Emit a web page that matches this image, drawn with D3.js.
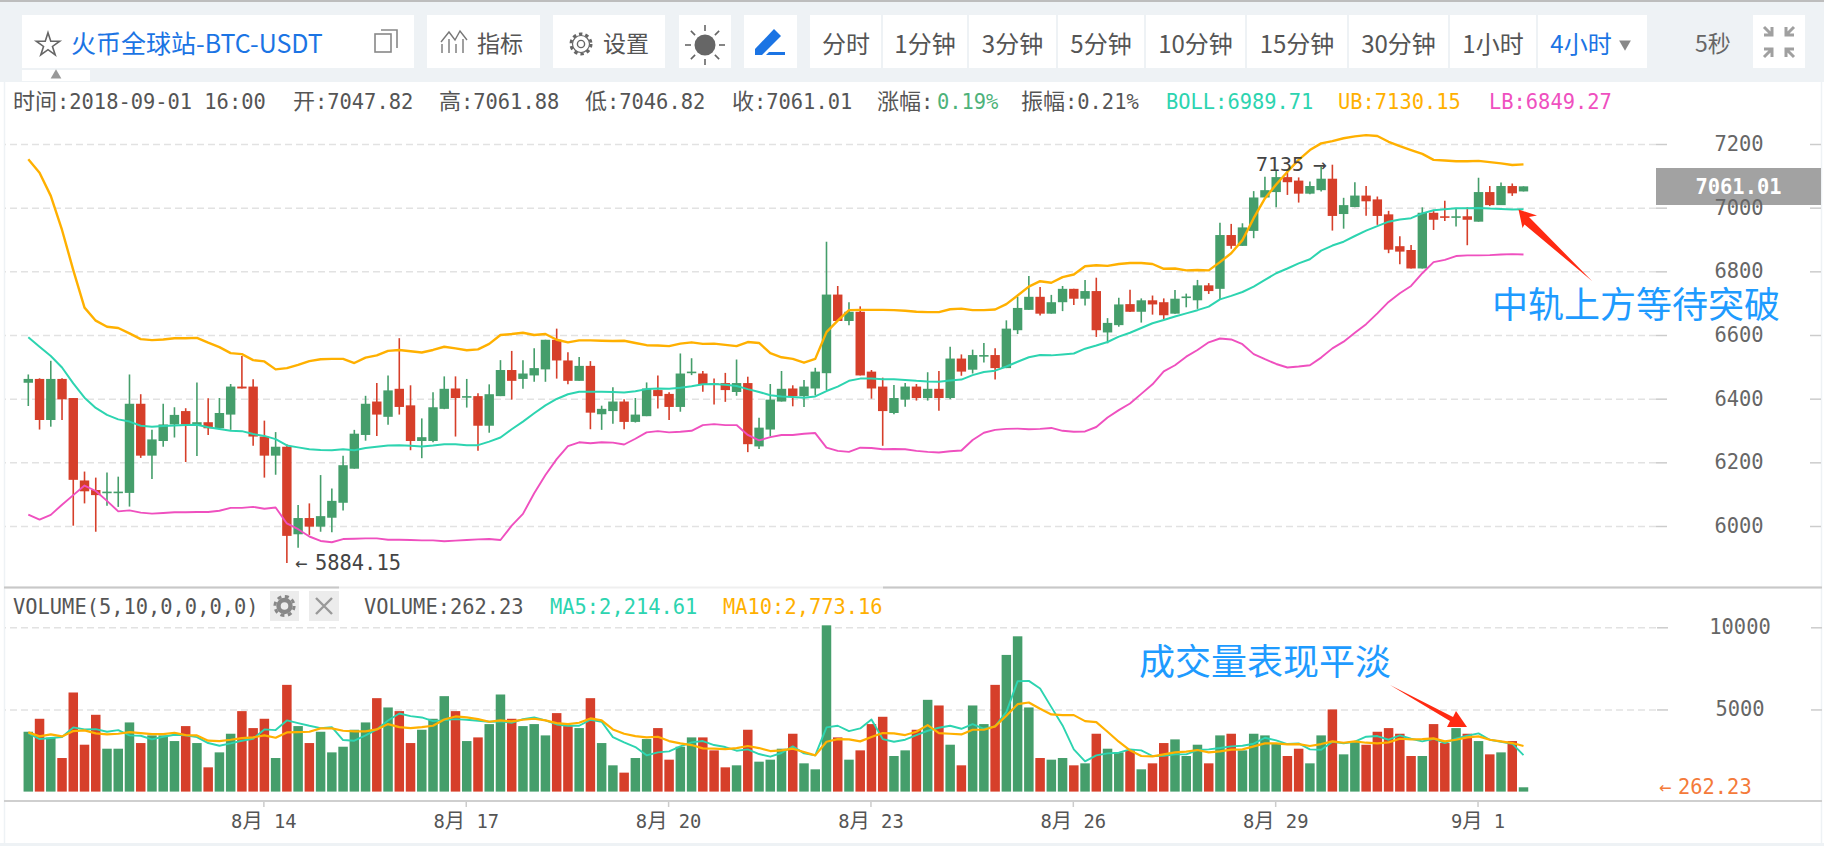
<!DOCTYPE html>
<html><head><meta charset="utf-8">
<script src="https://cdn.jsdelivr.net/npm/d3@7"></script>
<style>html,body{margin:0;padding:0;background:#fff}svg{display:block}</style>
</head><body><svg id="c" width="1824" height="846"></svg>
<script>
const opens=[6450,6462,6333,6462,6402,6143,6113,6104,6104,6104,6384,6221,6267,6319,6361,6317,6326,6307,6350,6438,6438,6281,6221,6249,5974,6025,5998,6026,6073,6180,6286,6391,6343,6431,6379,6267,6267,6368,6432,6403,6408,6315,6408,6490,6462,6473,6492,6585,6520,6456,6503,6351,6361,6391,6327,6345,6427,6415,6374,6480,6479,6448,6449,6421,6449,6250,6303,6391,6432,6408,6432,6480,6727,6644,6673,6485,6438,6355,6397,6438,6402,6431,6402,6526,6491,6532,6537,6496,6615,6679,6720,6667,6703,6745,6714,6738,6608,6631,6697,6673,6709,6703,6667,6717,6709,6756,6745,6914,6880,6927,7032,7049,7096,7085,7044,7055,7091,6980,7002,7038,7026,6979,6879,6867,6809,6984,6973,6969,6973,6956,7049,7008,7068,7051];
const highs=[6476,6464,6519,6464,6402,6171,6152,6168,6155,6476,6414,6302,6384,6373,6370,6451,6401,6402,6446,6534,6461,6331,6295,6257,6066,6071,6160,6118,6221,6302,6409,6449,6473,6590,6442,6338,6420,6470,6470,6462,6417,6445,6521,6550,6521,6558,6585,6620,6546,6531,6518,6378,6436,6398,6402,6451,6473,6420,6542,6527,6487,6463,6481,6523,6469,6340,6446,6487,6442,6459,6497,6893,6754,6703,6690,6490,6466,6443,6449,6446,6483,6487,6563,6539,6554,6575,6558,6646,6720,6785,6751,6726,6754,6745,6773,6780,6653,6717,6742,6715,6724,6715,6741,6730,6773,6763,6953,6949,6951,7052,7097,7118,7116,7095,7082,7128,7135,7031,7080,7068,7035,6990,6910,6883,7001,6993,7022,6998,7001,7094,7068,7079,7076,7067];
const lows=[6377,6303,6312,6333,6001,6071,5982,6064,6060,6061,6214,6148,6249,6278,6201,6220,6286,6304,6302,6432,6252,6152,6161,5884,5932,5972,5982,5980,6049,6180,6268,6283,6318,6350,6238,6213,6263,6367,6281,6372,6236,6293,6408,6397,6431,6453,6453,6463,6445,6456,6304,6302,6321,6304,6325,6345,6369,6333,6359,6474,6422,6382,6390,6409,6232,6242,6281,6391,6376,6374,6410,6427,6644,6631,6473,6400,6252,6351,6375,6394,6394,6362,6398,6472,6479,6514,6460,6496,6603,6679,6661,6667,6675,6694,6693,6594,6574,6626,6672,6639,6664,6649,6667,6687,6682,6729,6712,6871,6880,6904,7032,7001,7040,7016,7042,7051,6928,6934,7001,6975,6946,6857,6822,6809,6809,6930,6958,6941,6882,6956,7005,7008,7037,7051];
const closes=[6462,6333,6462,6398,6145,6109,6097,6108,6108,6384,6221,6272,6319,6349,6319,6326,6307,6355,6438,6432,6281,6221,6249,5969,6025,5998,6031,6079,6191,6290,6384,6350,6426,6374,6267,6279,6373,6431,6402,6408,6315,6414,6490,6456,6479,6496,6585,6520,6456,6503,6356,6368,6391,6327,6350,6432,6408,6374,6479,6485,6444,6445,6427,6449,6257,6309,6397,6431,6408,6438,6485,6727,6644,6673,6473,6432,6361,6402,6438,6402,6431,6402,6526,6485,6537,6537,6496,6620,6685,6720,6667,6703,6745,6714,6738,6615,6638,6696,6673,6709,6696,6662,6714,6721,6756,6738,6914,6880,6938,7032,7055,7096,7080,7044,7068,7091,6974,7008,7038,7020,6974,6868,6862,6809,6984,6962,6969,6973,6962,7049,7008,7068,7045,7067];
const bollUpper=[7152,7110,7037,6930,6804,6686,6645,6626,6622,6605,6587,6584,6586,6590,6590,6591,6576,6562,6543,6540,6521,6517,6492,6496,6506,6518,6524,6525,6525,6512,6529,6536,6550,6553,6549,6545,6553,6563,6558,6552,6555,6572,6600,6603,6607,6600,6603,6585,6577,6583,6583,6582,6581,6582,6575,6568,6567,6565,6573,6577,6572,6573,6569,6565,6578,6575,6543,6530,6525,6513,6525,6609,6645,6678,6679,6679,6679,6678,6676,6673,6672,6672,6681,6683,6678,6678,6680,6697,6724,6752,6769,6764,6782,6790,6816,6819,6817,6823,6826,6826,6823,6808,6809,6803,6804,6803,6829,6857,6898,6967,7029,7073,7113,7150,7181,7202,7209,7218,7224,7228,7225,7207,7193,7181,7169,7150,7148,7146,7146,7147,7143,7139,7134,7136];
const bollMid=[6593,6563,6534,6498,6448,6403,6371,6349,6335,6328,6315,6312,6314,6316,6317,6318,6310,6305,6299,6298,6289,6283,6273,6253,6247,6241,6239,6238,6241,6238,6245,6249,6253,6254,6252,6250,6253,6257,6257,6254,6254,6265,6278,6304,6328,6354,6379,6399,6414,6422,6422,6422,6421,6419,6423,6430,6432,6431,6434,6439,6445,6446,6444,6440,6430,6421,6411,6407,6405,6403,6407,6424,6438,6456,6463,6463,6461,6461,6459,6456,6454,6453,6457,6460,6474,6484,6488,6501,6516,6530,6537,6536,6539,6542,6557,6567,6578,6595,6607,6622,6637,6647,6658,6668,6678,6689,6712,6723,6735,6752,6773,6794,6809,6825,6838,6865,6881,6893,6911,6928,6942,6956,6963,6967,6982,6992,6995,6998,6998,6999,6997,6996,6994,6995];
const bollLower=[6036,6020,6035,6067,6097,6127,6110,6079,6046,6049,6042,6039,6041,6043,6043,6044,6044,6048,6057,6057,6060,6054,6058,6008,5990,5967,5953,5949,5959,5960,5961,5961,5957,5957,5956,5955,5955,5952,5954,5956,5958,5959,5956,6001,6038,6103,6160,6210,6251,6263,6260,6263,6262,6256,6274,6294,6298,6294,6296,6299,6317,6320,6317,6317,6286,6269,6279,6286,6286,6290,6292,6246,6236,6233,6246,6245,6241,6242,6241,6236,6233,6231,6235,6237,6270,6293,6302,6305,6306,6304,6305,6308,6299,6296,6297,6311,6341,6364,6385,6415,6445,6486,6505,6532,6553,6577,6589,6586,6571,6540,6524,6509,6498,6501,6505,6529,6558,6579,6607,6634,6668,6704,6731,6754,6794,6829,6836,6848,6850,6850,6851,6853,6854,6853];
const volumes=[3643,4433,3279,2044,6032,2854,4675,2611,2611,4210,2955,3421,3421,3076,3987,2955,1477,2388,3522,4898,3866,4433,2044,6497,3987,2955,3643,2388,2732,3765,4210,5687,5121,4898,2955,3765,4433,5809,4898,3076,3299,4109,5910,4433,3987,4109,3421,4777,3987,3866,5687,2955,1599,1154,2044,3198,3866,1943,2732,3299,3299,2510,1477,1599,3765,1822,1943,2611,3522,1720,1356,10120,3299,1943,2510,4109,4554,2166,2510,3765,5586,5242,2854,1599,5242,4109,6497,8319,9452,5121,2044,1943,2044,1599,1720,3522,2611,2388,2510,1356,1720,2955,3178,2166,2854,1720,3421,3522,2510,3522,3421,2955,2166,2611,1720,3421,5000,2267,3076,2854,3643,3866,3522,2166,2166,4109,2955,3866,3522,3076,2267,2388,3076,262];
const volMA5=[3562,3198,3259,3319,3906,3785,3805,3643,3744,3421,3400,3178,3340,3461,3421,3319,2955,2793,2935,3097,3218,3785,3744,4331,4169,4008,3866,3927,3137,3097,3421,3785,4331,4756,4594,4514,4291,4352,4412,4372,4311,4250,4271,4190,4412,4514,4331,4088,4008,4008,4372,4250,3319,2996,2712,2206,2388,2449,2753,2996,3076,2834,2712,2490,2570,2287,2125,2348,2753,2328,2206,3906,4008,3684,3846,4392,3198,3036,3157,3441,3704,3886,4008,3825,4109,3825,3967,4837,6720,6740,6274,5141,4028,2570,1842,2206,2328,2368,2570,2510,2166,2186,2267,2267,2530,2570,2651,2753,2793,2915,3279,3117,2894,2935,2570,2550,3036,2935,3036,3340,3380,3157,3421,3218,3056,3218,2955,3218,3400,3542,3157,3036,2915,2215];
const volMA10=[3603,3360,3481,3360,3684,3724,3542,3481,3522,3623,3562,3502,3502,3582,3441,3421,3097,3076,3157,3259,3299,3421,3279,3603,3623,3643,3846,3846,3704,3663,3663,3785,4109,3927,3866,3927,4008,4392,4574,4514,4412,4250,4331,4271,4372,4433,4331,4169,4109,4190,4453,4331,3785,3522,3380,3299,3340,3076,2935,2834,2631,2611,2591,2651,2773,2651,2469,2510,2611,2409,2206,3036,3198,3178,3056,3319,3562,3542,3441,3643,4048,3562,3522,3481,3765,3765,3967,4615,5323,5424,5040,4696,4655,4655,4291,4230,3643,3036,2510,2166,2145,2267,2388,2429,2530,2388,2449,2550,2570,2753,2935,2935,2874,2894,2773,2894,3056,2975,3056,2975,2935,2996,3218,3178,3198,3238,3056,3157,3299,3360,3157,3056,2955,2773];
const priceTicks=[6000,6200,6400,6600,6800,7000,7200];
const volTicks=[5000,10000];
const dateTickIndex=[21,39,57,75,93,111,129];
const dateTickLabels=["8月 14","8月 17","8月 20","8月 23","8月 26","8月 29","9月 1"];
const timeframes=["分时","1分钟","3分钟","5分钟","10分钟","15分钟","30分钟","1小时","4小时"];
const timeframeEdges=[810,882,968,1057,1145,1246,1348,1449,1537,1647];

const MONO='"DejaVu Sans Mono",monospace', CJK='"Noto Sans CJK SC","Noto Sans",sans-serif';
const RED='#d63f2a',GREEN='#459e6b',TEAL='#2dd4b0',ORANGE='#ffb000',PINK='#ef50bf',BLUE='#1b74e4',NOTE='#1e9bff',TXT='#555';
const svg=d3.select('#c');
const x=d3.scaleLinear().domain([0,133]).range([28.3,1523.5]);
const yP=d3.scaleLinear().domain([6000,7200]).range([526,144]);
const yV=d3.scaleLinear().domain([0,10000]).range([791.6,627.3]);
const idx=d3.range(opens.length);

/* page chrome */
svg.append('rect').attr('width',1824).attr('height',82).attr('fill','#eef2f5');
svg.append('rect').attr('width',1824).attr('height',2).attr('fill','#bdbdbd');
svg.append('rect').attr('y',843).attr('width',1824).attr('height',3).attr('fill','#eef2f5');
svg.append('line').attr('x1',4.5).attr('x2',4.5).attr('y1',82).attr('y2',843).attr('stroke','#eef2f5').attr('stroke-width',1.5);
svg.append('line').attr('x1',1821.5).attr('x2',1821.5).attr('y1',82).attr('y2',843).attr('stroke','#eef2f5').attr('stroke-width',1.5);
const box=(a,b,y0=15,y1=68)=>svg.append('rect').attr('x',a).attr('y',y0).attr('width',b-a).attr('height',y1-y0).attr('fill','#fff');
[[22,414],[427,540],[553,665],[679,731],[744,797],[810,1647],[1753,1805]].forEach(b=>box(b[0],b[1]));
box(22,90,70,81);
svg.append('path').attr('d',d3.symbol(d3.symbolTriangle,50)()).attr('transform','translate(56,75.5)').attr('fill','#999');
const cjk=(t,px,py,size,color,anchor='start')=>svg.append('text').attr('x',px).attr('y',py).attr('dy','.35em').attr('font-family',CJK).attr('font-size',size).attr('fill',color).attr('text-anchor',anchor).text(t);
cjk('火币全球站-BTC-USDT',71,44,25,BLUE);
cjk('指标',477,44,23,TXT);
cjk('设置',603,44,23,TXT);
timeframes.forEach((t,i)=>{
  const a=timeframeEdges[i],b=timeframeEdges[i+1];
  if(i>0) svg.append('line').attr('x1',a).attr('x2',a).attr('y1',15).attr('y2',68).attr('stroke','#eef2f5').attr('stroke-width',2);
  const last=i===timeframes.length-1;
  cjk(t,last?1581:(a+b)/2,45,24,last?BLUE:TXT,'middle');
});
svg.append('path').attr('d',d3.symbol(d3.symbolTriangle,60)()).attr('transform','translate(1625,44) rotate(180)').attr('fill','#888');
cjk('5秒',1713,44,23,'#666','middle');
/* icons */
svg.append('path').attr('d',d3.symbol(d3.symbolStar,170)()).attr('transform','translate(48,45)').attr('fill','none').attr('stroke','#666').attr('stroke-width',1.6);
svg.append('rect').attr('x',375).attr('y',34).attr('width',16).attr('height',18).attr('fill','none').attr('stroke','#888').attr('stroke-width',1.6);
svg.append('path').attr('d','M381 30H397V48').attr('fill','none').attr('stroke','#888').attr('stroke-width',1.6);
svg.append('path').attr('d','M442 53V44M449 53V39M456 53V44M463 53V39M441 42L449 32L455 40L460 31L467 40').attr('fill','none').attr('stroke','#777').attr('stroke-width',1.4);
svg.append('circle').attr('cx',581).attr('cy',44).attr('r',10).attr('fill','none').attr('stroke','#666').attr('stroke-width',3).attr('stroke-dasharray','3.4 3');
svg.append('circle').attr('cx',581).attr('cy',44).attr('r',8.5).attr('fill','none').attr('stroke','#666').attr('stroke-width',1.2);
svg.append('circle').attr('cx',581).attr('cy',44).attr('r',3.6).attr('fill','none').attr('stroke','#666').attr('stroke-width',1.4);
svg.append('circle').attr('cx',705).attr('cy',45).attr('r',10.5).attr('fill','#666');
d3.range(8).forEach(i=>{const a=i*Math.PI/4,c=Math.cos(a),s=Math.sin(a);
  svg.append('line').attr('x1',705+c*14).attr('y1',45+s*14).attr('x2',705+c*20).attr('y2',45+s*20).attr('stroke','#666').attr('stroke-width',1.6);});
svg.append('path').attr('d','M755 49L774 29L781 36L762 55H755Z').attr('fill',BLUE);
svg.append('path').attr('d','M766 55H785V52H769Z').attr('fill',BLUE);
svg.append('path').attr('d','M1764 27L1772 35M1772 27V35H1764M1794 27L1786 35M1786 27V35H1794M1764 57L1772 49M1772 57V49H1764M1794 57L1786 49M1786 57V49H1794').attr('fill','none').attr('stroke','#a0a0a0').attr('stroke-width',3);

/* mixed CJK / monospaced text */
function mono(parent,t,px,py,size,color,anchor='start'){
  const n=parent.append('text').attr('x',px).attr('y',py).attr('dy','.35em').attr('fill',color).attr('text-anchor',anchor).attr('font-family',MONO).attr('font-size',size);
  (t.match(/[\u4e00-\u9fff]+|[^\u4e00-\u9fff]+/g)||[]).forEach(s=>{
    const c=/[\u4e00-\u9fff]/.test(s);
    n.append('tspan').attr('font-family',c?CJK:MONO).attr('font-size',c?size*1.08:size).text(s);
  });
  return n;
}
const info=[['时间:2018-09-01 16:00',13,TXT],['开:7047.82',293,TXT],['高:7061.88',439,TXT],['低:7046.82',585,TXT],['收:7061.01',732,TXT],['涨幅:',877,TXT],['0.19%',937,'#4db27a'],['振幅:0.21%',1021,TXT],['BOLL:6989.71',1166,TEAL],['UB:7130.15',1338,ORANGE],['LB:6849.27',1489,PINK]];
info.forEach(d=>mono(svg,d[0],d[1],102,20.4,d[2]));

/* price panel */
const gridStyle=g=>{g.select('.domain').remove();g.selectAll('.tick line').attr('stroke','#e2e2e2').attr('stroke-width',1.5).attr('stroke-dasharray','7 4');};
svg.append('g').attr('transform','translate(1656,0)').call(d3.axisLeft(yP).tickValues(priceTicks).tickSize(1651).tickFormat('')).call(gridStyle);
svg.append('g').attr('transform','translate(1656,0)').call(d3.axisLeft(yV).tickValues(volTicks).tickSize(1651).tickFormat('')).call(gridStyle);

const candles=svg.append('g');
candles.selectAll('line').data(idx).join('line')
  .attr('x1',i=>x(i)).attr('x2',i=>x(i)).attr('y1',i=>yP(highs[i])).attr('y2',i=>yP(lows[i]))
  .attr('stroke',i=>closes[i]>=opens[i]?GREEN:RED).attr('stroke-width',1.6);
candles.selectAll('rect').data(idx).join('rect')
  .attr('x',i=>x(i)-4.7).attr('width',9.4)
  .attr('y',i=>yP(Math.max(opens[i],closes[i])))
  .attr('height',i=>Math.max(1.6,Math.abs(yP(opens[i])-yP(closes[i]))))
  .attr('fill',i=>closes[i]>=opens[i]?GREEN:RED);
const drawLine=(arr,y,color,w)=>svg.append('path').attr('d',d3.line().x((d,i)=>x(i)).y(d=>y(d))(arr)).attr('fill','none').attr('stroke',color).attr('stroke-width',w).attr('stroke-linejoin','round');
drawLine(bollUpper,yP,ORANGE,2.4);
drawLine(bollMid,yP,TEAL,2);
drawLine(bollLower,yP,PINK,1.9);

/* price axis */
const stubStyle=(g,ts)=>{g.select('.domain').remove();
  g.selectAll('.tick line').attr('stroke','#ccc').attr('stroke-width',1.5);
  g.selectAll('.tick').append('line').attr('x1',154).attr('x2',165).attr('stroke','#ccc').attr('stroke-width',1.5);
  g.selectAll('.tick text').attr('font-family',MONO).attr('font-size',ts).attr('fill','#666').attr('text-anchor','middle').attr('x',83);};

/* last price tag drawn under the labels */
svg.append('rect').attr('x',1656).attr('y',168).attr('width',165).attr('height',37).attr('fill','#a2a2a2');
svg.append('g').attr('transform','translate(1656,0)').call(d3.axisRight(yP).tickValues(priceTicks).tickSize(11).tickFormat(d3.format('d'))).call(g=>stubStyle(g,20.4));
svg.append('text').attr('x',1738.5).attr('y',187).attr('dy','.35em').attr('text-anchor','middle').attr('font-family',MONO).attr('font-size',20.4).attr('fill','#fff').attr('font-weight','bold').text('7061.01');

mono(svg,'←',295,563,20.4,'#444');
mono(svg,'5884.15',315,563,20.4,'#444');
mono(svg,'7135',1256,164,20,'#444');
mono(svg,'→',1313,164,23,'#444');

/* annotations */
cjk('中轨上方等待突破',1492,305,36,NOTE);
cjk('成交量表现平淡',1139,662,36,NOTE);

/* volume panel */
svg.append('line').attr('x1',4).attr('x2',1822).attr('y1',587.5).attr('y2',587.5).attr('stroke','#efefef').attr('stroke-width',2);
svg.append('line').attr('x1',4).attr('x2',339).attr('y1',587.5).attr('y2',587.5).attr('stroke','#c8c8c8').attr('stroke-width',2);
svg.append('line').attr('x1',883).attr('x2',1822).attr('y1',587.5).attr('y2',587.5).attr('stroke','#c8c8c8').attr('stroke-width',2);
mono(svg,'VOLUME(5,10,0,0,0,0)',13,607,20.4,TXT);
svg.append('rect').attr('x',270).attr('y',591).attr('width',29).attr('height',30).attr('fill','#ececec');
svg.append('rect').attr('x',309).attr('y',591).attr('width',30).attr('height',30).attr('fill','#ececec');
svg.append('circle').attr('cx',284.5).attr('cy',606).attr('r',6).attr('fill','none').attr('stroke','#888').attr('stroke-width',4.4);
svg.append('circle').attr('cx',284.5).attr('cy',606).attr('r',9.6).attr('fill','none').attr('stroke','#888').attr('stroke-width',3).attr('stroke-dasharray','4 3.55');
svg.append('path').attr('d','M316 598L332 614M332 598L316 614').attr('stroke','#999').attr('stroke-width',2.4);
mono(svg,'VOLUME:262.23',364,607,20.4,TXT);
mono(svg,'MA5:2,214.61',550,607,20.4,TEAL);
mono(svg,'MA10:2,773.16',723,607,20.4,ORANGE);

svg.append('g').selectAll('rect').data(idx).join('rect')
  .attr('x',i=>x(i)-4.75).attr('width',9.5).attr('y',i=>yV(volumes[i])).attr('height',i=>yV(0)-yV(volumes[i]))
  .attr('fill',i=>closes[i]>=opens[i]?GREEN:RED);
drawLine(volMA5,yV,TEAL,1.9);
drawLine(volMA10,yV,ORANGE,2.2);
svg.append('g').attr('transform','translate(1657,0)').call(d3.axisRight(yV).tickValues(volTicks).tickSize(11).tickFormat(d3.format('d'))).call(g=>stubStyle(g,20.4));
mono(svg,'←',1659,787,20.4,'#f47a3a');
mono(svg,'262.23',1678,787,20.4,'#f47a3a');

/* date axis */
const dateAxis=svg.append('g').attr('transform','translate(-1,801)').call(d3.axisBottom(x).tickValues(dateTickIndex).tickSize(6).tickFormat(''));
dateAxis.select('.domain').remove();
dateAxis.selectAll('.tick line').attr('stroke','#ccc').attr('stroke-width',1.5);
svg.append('line').attr('x1',4).attr('x2',1822).attr('y1',801).attr('y2',801).attr('stroke','#cfcfcf').attr('stroke-width',2);
dateTickIndex.forEach((d,i)=>mono(svg,dateTickLabels[i],x(d)-0.5,821,18.8,TXT,'middle'));

/* red arrows */
svg.append('path').attr('d','M1518.5 209.5L1537 215.5L1529 217L1592 281L1524.5 224.5L1522.5 228Z').attr('fill','#ff2a12');
svg.append('path').attr('d','M1390 685L1453 717L1456 711L1467 727L1447 727L1450 721Z').attr('fill','#ff2a12');
</script></body></html>
